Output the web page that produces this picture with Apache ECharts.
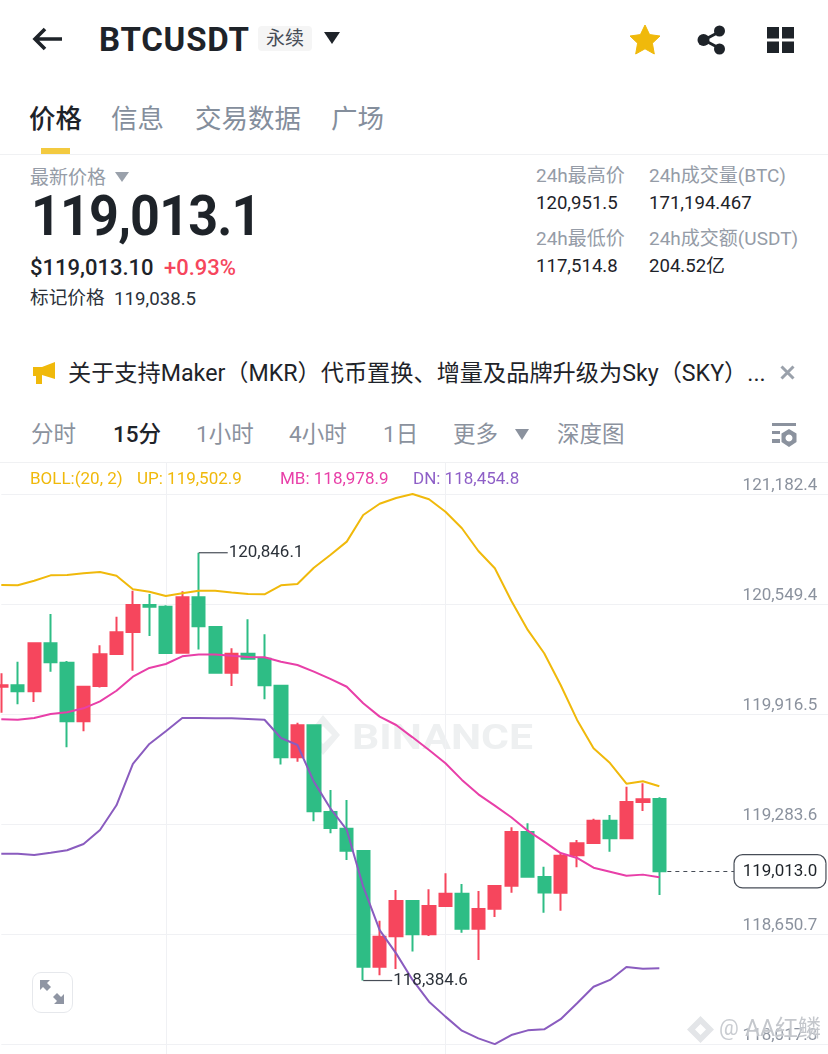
<!DOCTYPE html>
<html>
<head>
<meta charset="utf-8">
<title>BTCUSDT</title>
<script src="https://cdn.jsdelivr.net/npm/echarts@6/dist/echarts.min.js"></script>
<style>
html,body{margin:0;padding:0;background:#fff;width:828px;height:1054px;overflow:hidden;font-family:Roboto,"Noto Sans CJK SC",sans-serif;color:#1e2329;}
.t{position:absolute;white-space:nowrap;line-height:1;}
.g{color:#959ca7;}
.tab{color:#848e9c;font-size:26.5px;top:106px;}
.per{color:#8b929e;font-size:22.5px;top:423px;}
.hr{position:absolute;left:0;width:828px;height:1px;background:#f0f1f3;}
svg{position:absolute;}
#chart{position:absolute;left:0;top:462px;width:860px;height:592px;}
</style>
</head>
<body>
<svg style="left:32px;top:26px" width="32" height="26" viewBox="0 0 32 26"><path d="M13 3 L3 13 L13 23 M3 13 H30" fill="none" stroke="#1e2329" stroke-width="3.6"/></svg>
<div class="t" style="left:99px;top:23px;font-size:33px;font-weight:700;letter-spacing:.8px">BTCUSDT</div>
<div class="t" style="left:258px;top:26px;width:54px;height:25px;background:#f5f5f5;border-radius:4px"></div>
<div class="t" style="left:266px;top:29px;font-size:19px;color:#474d57">永续</div>
<svg style="left:324px;top:32px" width="16" height="13"><path d="M0 0H16L8 12Z" fill="#1e2329"/></svg>
<svg style="left:629px;top:24px" width="32" height="31" viewBox="0 0 32 31"><path d="M16 1 L20.6 10.6 L31 12 L23.4 19.2 L25.3 30 L16 24.8 L6.7 30 L8.6 19.2 L1 12 L11.4 10.6Z" fill="#f0b90b" stroke="#f0b90b" stroke-linejoin="round"/></svg>
<svg style="left:697px;top:25px" width="29" height="30" viewBox="0 0 29 30"><path d="M22 7 L7 15 L22 23" fill="none" stroke="#1e2329" stroke-width="3"/><circle cx="22.5" cy="6" r="5.5" fill="#1e2329"/><circle cx="6.5" cy="15" r="6" fill="#1e2329"/><circle cx="22.5" cy="24" r="5.5" fill="#1e2329"/></svg>
<svg style="left:767px;top:27px" width="27" height="26"><path d="M0 0H12V11.500H0Z M15 0H27V11.500H15Z M0 14.500H12V26H0Z M15 14.500H27V26H15Z" fill="#1e2329"/></svg>

<div class="t" style="left:29px;top:106px;font-size:26.5px;font-weight:500">价格</div>
<div class="t tab" style="left:111px">信息</div>
<div class="t tab" style="left:195px">交易数据</div>
<div class="t tab" style="left:331px">广场</div>
<div class="t" style="left:41px;top:148px;width:29px;height:6px;background:#f3ca40"></div>
<div class="hr" style="top:154px"></div>

<div class="t g" style="left:30px;top:168px;font-size:19px">最新价格</div>
<svg style="left:115px;top:172px" width="14" height="10"><path d="M0 0H14L7 10Z" fill="#9aa1ab"/></svg>
<div class="t" style="left:31px;top:188px;font-size:56px;font-weight:700;letter-spacing:-.9px;transform:scaleX(.93);transform-origin:left top">119,013.1</div>
<div class="t" style="left:30px;top:257px;font-size:22px;font-weight:500">$119,013.10</div>
<div class="t" style="left:164px;top:257px;font-size:22px;font-weight:500;color:#f6465d">+0.93%</div>
<div class="t" style="left:30px;top:289px;font-size:18.7px;color:#2b3139">标记价格</div>
<div class="t" style="left:114px;top:290px;font-size:18.7px;color:#2b3139">119,038.5</div>

<div class="t g" style="left:536px;top:166px;font-size:19px">24h最高价</div>
<div class="t" style="left:536px;top:194px;font-size:18.6px">120,951.5</div>
<div class="t g" style="left:536px;top:229px;font-size:19px">24h最低价</div>
<div class="t" style="left:536px;top:257px;font-size:18.6px">117,514.8</div>
<div class="t g" style="left:649px;top:166px;font-size:19px">24h成交量(BTC)</div>
<div class="t" style="left:649px;top:194px;font-size:18.6px">171,194.467</div>
<div class="t g" style="left:649px;top:229px;font-size:19px">24h成交额(USDT)</div>
<div class="t" style="left:649px;top:257px;font-size:18.6px">204.52亿</div>

<svg style="left:33px;top:362px" width="23" height="23" viewBox="0 0 23 23"><path d="M0 5H9L22 0V17L9 13V22H3V14H0Z" fill="#f0b90b"/></svg>
<div class="t" style="left:68px;top:362px;font-size:23.200px">关于支持Maker（MKR）代币置换、增量及品牌升级为Sky（SKY）...</div>
<svg style="left:780px;top:365px" width="15" height="15"><path d="M1.500 1.500L13.500 13.500M13.500 1.500L1.500 13.500" stroke="#9aa1ab" stroke-width="3"/></svg>

<div class="t per" style="left:31px">分时</div>
<div class="t" style="left:113px;top:423px;font-size:22.5px;font-weight:500">15分</div>
<div class="t per" style="left:196px">1小时</div>
<div class="t per" style="left:289px">4小时</div>
<div class="t per" style="left:383px">1日</div>
<div class="t per" style="left:453px">更多</div>
<svg style="left:515px;top:429px" width="14" height="11"><path d="M0 0H14L7 11Z" fill="#8b929e"/></svg>
<div class="t per" style="left:557px">深度图</div>
<svg style="left:772px;top:423px" width="25" height="25"><path d="M0 0H24V3H0Z M0 8H8V11H0Z M0 16H8V20H0Z" fill="#8b929e"/><path d="M17 6 L24.500 10.500V19L17 24L9.500 19V10.500Z M17 11.500a3.500 3.500 0 1 0 .01 0Z" fill="#8b929e" fill-rule="evenodd"/></svg>
<div class="hr" style="top:462px"></div>

<div id="chart"></div>

<div class="t" style="left:30px;top:470px;font-size:17px;color:#f0b90b">BOLL:(20, 2)</div>
<div class="t" style="left:137px;top:470px;font-size:17px;color:#f0b90b">UP: 119,502.9</div>
<div class="t" style="left:280px;top:470px;font-size:17px;color:#e83fa8">MB: 118,978.9</div>
<div class="t" style="left:413px;top:470px;font-size:17px;color:#8e5fc7">DN: 118,454.8</div>

<div class="t" style="left:32px;top:972px;width:39px;height:39px;border:1.5px solid #e6e8ec;border-radius:9px;background:#fff"></div>
<svg style="left:39px;top:979px" width="26" height="26"><path d="M1 1H11L8 4L12 8L8 12L4 8L1 11Z M25 25H15L18 22L14 18L18 14L22 18L25 15Z" fill="#8f95a3"/></svg>

<svg style="left:686px;top:1015px" width="29" height="29" viewBox="0 0 29 29"><path d="M14.500 1L28 14.500L14.500 28L1 14.500Z M14.500 9L9 14.500L14.500 20L20 14.500Z" fill="#e3e5e8" fill-rule="evenodd"/></svg>
<div class="t" style="left:719px;top:1017px;font-size:22px;color:#c9ccd1;text-shadow:0 0 2px #fff">@</div>
<div class="t" style="left:745px;top:1017px;font-size:23px;color:#c4c7cc;text-shadow:0 0 2px #fff">AA红鳞</div>

<script>
// candles
var opens  = [120075,120083,120049,120325,120213,119876,120079,120263,120390,120545,120536,120271,120590,120419,120156,120265,120236,120081,119669,119853,119354,119258,119130,118464,118639,118842,118651,118814,118884,118683,118798,118930,119239,118980,118889,119105,119176,119304,119203,119412,119429];
var closes = [120083,120049,120325,120216,119876,120075,120262,120388,120545,120536,120269,120590,120423,120156,120265,120236,120083,119669,119853,119358,119262,119132,118464,118637,118842,118651,118814,118884,118683,118796,118929,119239,118982,118891,119103,119174,119304,119203,119412,119427,119013];
var lows   = [119926,119974,119987,120162,119727,119819,120070,120263,120167,120367,120269,120271,120290,120155,120079,120233,120003,119627,119644,119301,119232,119078,118384.6,118415,118451,118551,118641,118808,118660,118503,118750,118890,118980,118775,118786,119036,119175,119126,119202,119360,118877];
var highs  = [120152,120219,120327,120494,120223,120079,120314,120478,120628,120609,120544,120624,120846.1,120420,120296,120463,120377,120083,119868,119855,119481,119423,119132,118729,118906,118848,118910,119002,118940,118900,118931,119266,119289,119040,119117,119193,119316,119337,119500,119520,119439];
// BOLL(20, 2)
var up = [120660,120659,120685,120716,120718,120728,120735,120714,120636,120622,120597,120613,120628,120628,120618,120609,120607,120659,120666,120760,120833,120910,121063,121128,121161,121184,121154,121082,120987,120856,120757,120570,120402,120268,120085,119884,119721,119636,119517,119531,119502.9];
var mb = [119888,119885,119895,119918,119928,119951,119991,120052,120133,120183,120206,120250,120260,120260,120254,120246,120245,120219,120200,120162,120120,120075,119980,119903,119855,119784,119711,119635,119539,119456,119391,119324,119247,119184,119118,119090,119034,119011,118988,118994,118978.9];
var dn = [119114,119114,119107,119120,119134,119170,119251,119393,119631,119746,119819,119895,119895,119894,119894,119890,119885,119780,119740,119529,119376,119251,118925,118675,118541,118388,118263,118177,118096,118052,118019,118071,118098,118104,118162,118254,118349,118388,118463,118453,118454.8];
var yTicks = [118017.8,118650.7,119283.6,119916.5,120549.4,121182.4];
var yMin = 117961.9, yMax = 121368.2;
var lastPrice = 119013.0;
var highMark = {idx:12, val:120846.1};
var lowMark = {idx:22, val:118384.6};
var vLines = [10,27];
var totalBars = 52; // room on the right of the last candle

var RED = '#f6465d', GREEN = '#2ebd85', GRID = '#f0f1f4';

function fmt(v) {
	return v.toLocaleString('en-US', {minimumFractionDigits:1, maximumFractionDigits:1});
}

var cats = [];
for(var i=0; i<totalBars; i++) cats.push(i);
var kData = [];
for(var j=0; j<opens.length; j++) kData.push([opens[j], closes[j], lows[j], highs[j]]);

function extremeMark(m) {
	return {
		coord: [m.idx, m.val],
		symbol: 'rect',
		symbolSize: [29, 1.2],
		symbolOffset: [14.5, 0],
		itemStyle: {color:'#474d57', borderWidth:0},
		label: {show:true, position:'right', distance:1, color:'#2b3139', fontSize:17, fontFamily:'Roboto', formatter:fmt(m.val)}
	};
}

function lineSeries(name, data, color) {
	return {name:name, type:'line', data:data, symbol:'none', silent:true, lineStyle:{color:color, width:2}};
}

var chart = echarts.init(document.getElementById('chart'));
chart.setOption({
	animation: false,
	grid: {left:1.3, top:0, width:839, height:592},
	xAxis: {
		type: 'category',
		boundaryGap: false,
		data: cats,
		axisLine: {show:false},
		axisTick: {show:false},
		axisLabel: {show:false},
		splitLine: {
			show: true,
			interval: function(index) { return vLines.indexOf(index) != -1; },
			lineStyle: {color:GRID, width:1}
		}
	},
	yAxis: {
		type: 'value',
		position: 'right',
		min: yMin,
		max: yMax,
		axisLine: {show:false},
		axisTick: {show:false, customValues:yTicks},
		splitLine: {show:true, lineStyle:{color:GRID, width:1}},
		axisLabel: {
			inside: true,
			margin: 23,
			customValues: yTicks,
			color: '#8b929e',
			fontSize: 17,
			fontFamily: 'Roboto',
			verticalAlign: 'bottom',
			formatter: function(v) { return fmt(v); }
		}
	},
	graphic: [
		{type:'text', x:352, y:261, scaleX:1.22, z:-1, silent:true, style:{text:'BINANCE', fill:'#eef0f1', font:'700 35px Roboto'}},
		{type:'polygon', z:-1, silent:true, shape:{points:[[323,253],[340,273],[323,293],[307,273],[315,273],[323,282],[332,273],[323,264],[315,273],[307,273]]}, style:{fill:'#eef0f1'}}
	],
	series: [
		{
			type: 'candlestick',
			data: kData,
			clip: false,
			silent: true,
			barWidth: 12.8,
			itemStyle: {color:RED, color0:GREEN, borderColor:RED, borderColor0:GREEN, borderWidth:2},
			markPoint: {
				silent: true,
				z: 6,
				data: [
					extremeMark(highMark),
					extremeMark(lowMark),
					{
						coord: [47, lastPrice],
						symbol: 'rect',
						symbolSize: 1,
						itemStyle: {color:'rgba(0,0,0,0)', borderWidth:0},
						label: {
							show:true, position:'inside', offset:[5.5,0], formatter:fmt(lastPrice),
							color:'#1e2329', fontSize:17, fontFamily:'Roboto',
							backgroundColor:'#fff', borderColor:'#474d57', borderWidth:1.2, borderRadius:8, padding:[8,8,7,8]
						}
					}
				]
			},
			markLine: {
				silent: true,
				z: 1,
				symbol: 'none',
				label: {show:false},
				lineStyle: {color:'#474d57', type:[4,4], width:1},
				data: [[{coord:[40,lastPrice]}, {coord:[46,lastPrice]}]]
			}
		},
		lineSeries('UP', up, '#f0b90b'),
		lineSeries('MB', mb, '#e83fa8'),
		lineSeries('DN', dn, '#8a5cbf')
	]
});
</script>
</body>
</html>
